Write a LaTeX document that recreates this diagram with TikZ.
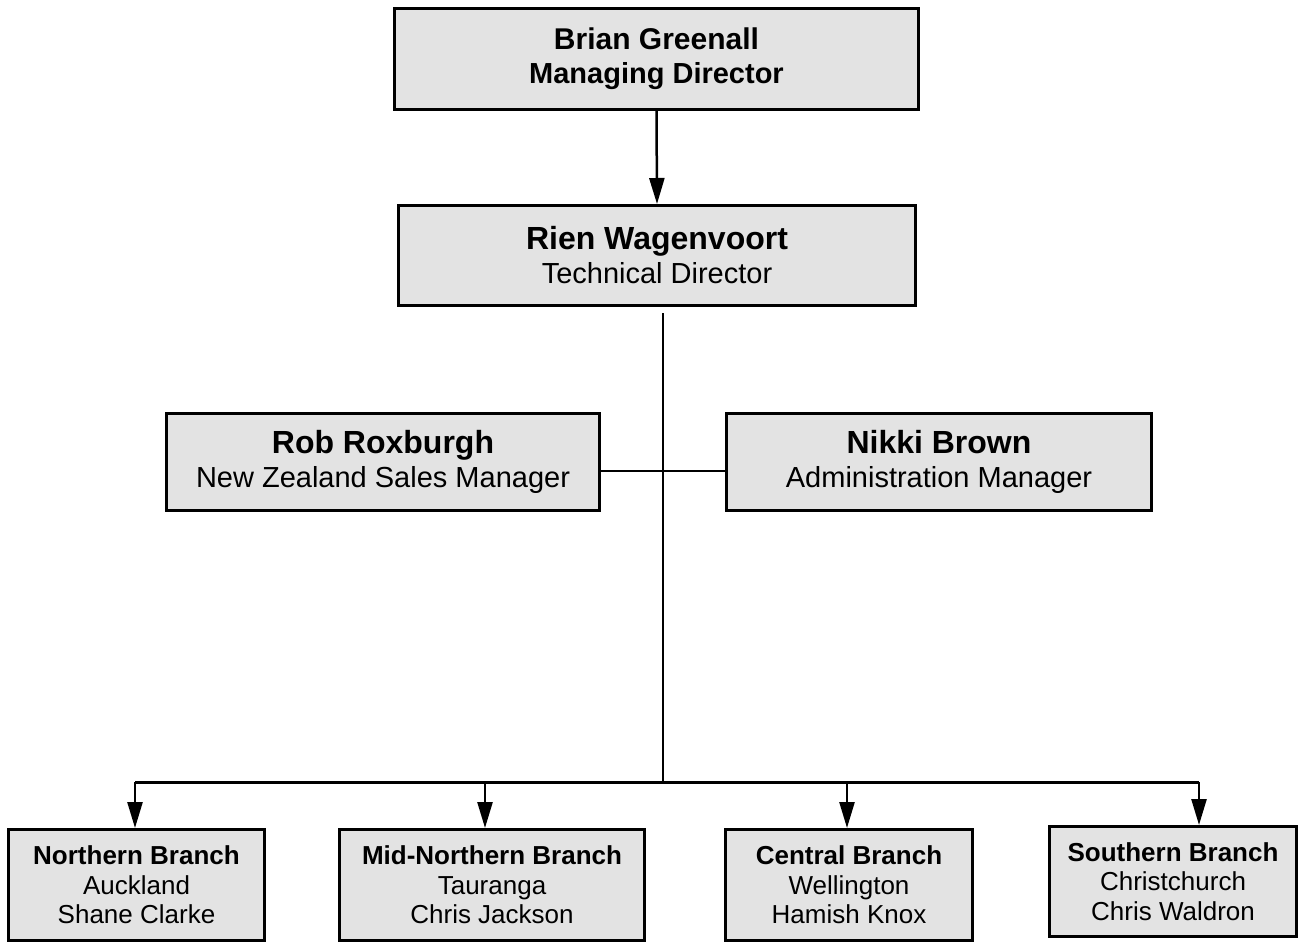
\documentclass[tikz,border=0pt]{standalone}
\usepackage{fontspec}
\setmainfont{Liberation Sans}
\usetikzlibrary{arrows.meta}
\tikzset{
	chartbox/.style={draw=black, line width=3pt, fill=black!11, align=center, inner sep=0pt, font=\fontsize{29}{34}\selectfont},
	branchbox/.style={chartbox, font=\fontsize{26}{29.5}\selectfont},
	link/.style={line width=2.5pt},
	linkarrow/.style={link, -{Triangle[length=26pt,width=15pt]}}
}
\newcommand{\bigname}[1]{{\fontsize{32}{34}\selectfont\bfseries #1}}

\begin{document}
\begin{tikzpicture}[x=1pt,y=-1pt]
			%%%%% START %%%%%
			\useasboundingbox (0,0) rectangle (1308,943);
			
			\node[chartbox, minimum width=524pt, minimum height=101pt] (brian) at (656.5,59)
				{{\fontsize{30}{34}\selectfont\bfseries Brian Greenall}\\ \textbf{Managing Director}};
			\node[chartbox, minimum width=517pt, minimum height=100pt] (rien) at (657,255.5)
				{\bigname{Rien Wagenvoort}\\ Technical Director};
			
			\node[chartbox, minimum width=433pt, minimum height=97pt] (rob) at (383,462)
				{\bigname{Rob Roxburgh}\\ New Zealand Sales Manager};
			\node[chartbox, minimum width=425pt, minimum height=97pt] (nikki) at (939,462)
				{\bigname{Nikki Brown}\\ Administration Manager};
			
			\node[branchbox, minimum width=256pt, minimum height=111pt] (northern) at (136.5,885)
				{\textbf{Northern Branch}\\ Auckland\\ Shane Clarke};
			\node[branchbox, minimum width=305pt, minimum height=111pt] (midnorth) at (492,885)
				{\textbf{Mid-Northern Branch}\\ Tauranga\\ Chris Jackson};
			\node[branchbox, minimum width=247pt, minimum height=111pt] (central) at (849,885)
				{\textbf{Central Branch}\\ Wellington\\ Hamish Knox};
			\node[branchbox, minimum width=247pt, minimum height=110pt] (southern) at (1173,881.5)
				{\textbf{Southern Branch}\\ Christchurch\\ Chris Waldron};
			
			% trunk and staff line
			\coordinate (trunktop) at (663,313);
			\coordinate (trunkbot) at (663,782);
			\coordinate (staff) at (663,471);
			\coordinate (busL) at (135,782);
			\coordinate (busR) at (1199,782);
			
			\draw[linkarrow] (brian.south) -- (rien.north);
			\draw[link, line width=2pt] (trunktop) -- (trunkbot);
			\draw[link, line width=2pt] (rob.east |- staff) -- (nikki.west |- staff);
			\draw[link, line width=3pt] (busL) -- (busR);
			
			\foreach \b/\x in {northern/135, midnorth/485, central/847, southern/1199}{
				\coordinate (tap\b) at (\x,782);
				\draw[linkarrow] (tap\b) -- (tap\b |- \b.north);
			}
			
			%%%%% END %%%%%
\end{tikzpicture}
\end{document}
